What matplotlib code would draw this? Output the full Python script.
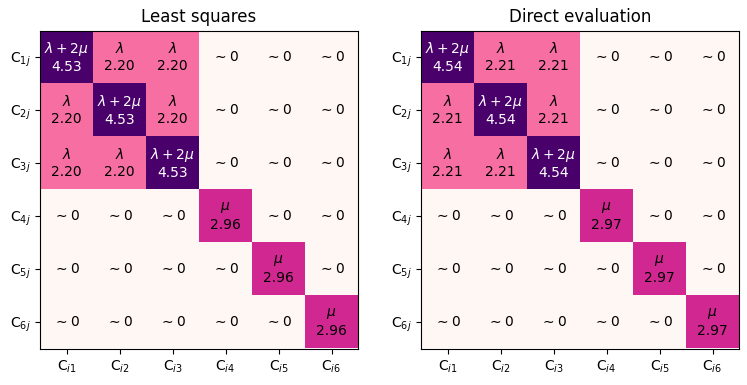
import matplotlib
matplotlib.use('Agg')
import matplotlib.pyplot as plt
import numpy as np

titles = ['Least squares', 'Direct evaluation']
lam = [2.20, 2.21]
lam2mu = [4.53, 4.54]
mu = [2.96, 2.97]

row_labels = [r'C$_{%dj}$' % (k + 1) for k in range(6)]
col_labels = [r'C$_{i%d}$' % (k + 1) for k in range(6)]


def _build(lam_v, lam2mu_v, mu_v):
    mat = np.zeros((6, 6))
    names = [[r'$\sim 0$'] * 6 for _ in range(6)]
    for i in range(3):
        for j in range(3):
            if i == j:
                mat[i, j] = lam2mu_v
                names[i][j] = r'$\lambda + 2\mu$'
            else:
                mat[i, j] = lam_v
                names[i][j] = r'$\lambda$'
    for i in range(3, 6):
        mat[i, i] = mu_v
        names[i][i] = r'$\mu$'
    return mat, names


fig = plt.figure(figsize=(7.47, 3.85), dpi=100)
lefts = [40 / 747, 421 / 747]
for k, title in enumerate(titles):
    ax = fig.add_axes([lefts[k], 36.5 / 385, 318 / 747, 318 / 385])
    mat, names = _build(lam[k], lam2mu[k], mu[k])
    vmax = mat.max()
    ax.imshow(mat, cmap='RdPu', vmin=0, vmax=vmax, aspect='auto')
    for i in range(6):
        for j in range(6):
            val = mat[i, j]
            color = 'white' if val > 0.8 * vmax else 'black'
            if val == 0:
                txt = names[i][j]
            else:
                txt = names[i][j] + '\n' + f'{val:.2f}'
            ax.text(j, i, txt, ha='center', va='center', color=color, fontsize=10)
    ax.set_xticks(range(6))
    ax.set_xticklabels(col_labels)
    ax.set_yticks(range(6))
    ax.set_yticklabels(row_labels)
    ax.set_title(title)

fig.savefig('out.png', dpi=100)
